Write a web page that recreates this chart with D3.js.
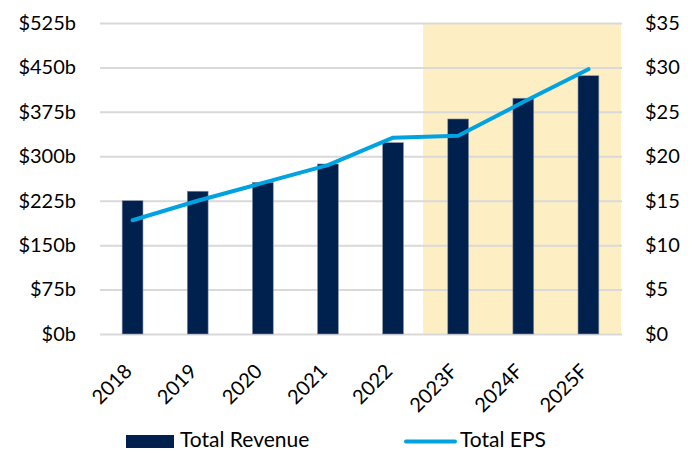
<!DOCTYPE html>
<html><head><meta charset="utf-8">
<script src="https://cdn.jsdelivr.net/npm/d3@7"></script>
<style>body{margin:0;background:#fff}svg{display:block}text{font-family:Lato,"Noto Sans",sans-serif;fill:#000}</style>
</head><body><svg id="c" width="696" height="454"></svg>
<script>
const categories = ["2018","2019","2020","2021","2022","2023F","2024F","2025F"];
const revenue = [225, 241, 256, 287, 323, 363, 398, 436];
const eps = [12.8, 15.0, 17.0, 19.0, 22.1, 22.3, 26.1, 29.8];
const leftTicks = [0,75,150,225,300,375,450,525];
const rightTicks = [0,5,10,15,20,25,30,35];
const forecast = ["2023F","2024F","2025F"];

const svg = d3.select("#c");
const m = {l:100, r:75, t:23, b:120};
const W = 696, H = 454;
const FS = "20px";
const x = d3.scaleBand().domain(categories).range([m.l, W-m.r]).paddingInner(0.68).paddingOuter(0.34);
const yL = d3.scaleLinear().domain([0,525]).range([H-m.b, m.t]);
const yR = d3.scaleLinear().domain([0,35]).range([H-m.b, m.t]);
const step = x.step();

// forecast shading
const fx0 = x(forecast[0]) - (step - x.bandwidth())/2 - 2.5;
const fx1 = x(forecast[forecast.length-1]) + x.bandwidth() + (step - x.bandwidth())/2;
svg.append("rect").attr("x", fx0).attr("y", yL(525)).attr("width", fx1-fx0).attr("height", yL(0)-yL(525)).attr("fill","#fdefc3");

// gridlines
svg.append("g").selectAll("line").data(leftTicks).join("line")
  .attr("x1", m.l).attr("x2", W-m.r+1).attr("y1", d=>yL(d)+0.5).attr("y2", d=>yL(d)+0.5)
  .attr("stroke","#d9d9d9").attr("stroke-width",2);

// left axis
const gL = svg.append("g").attr("transform",`translate(${m.l-24},0)`)
  .call(d3.axisLeft(yL).tickValues(leftTicks).tickSize(0).tickPadding(0).tickFormat(d=>"$"+d+"b"));
gL.select(".domain").remove();
gL.selectAll("text").style("font-size",FS).style("font-family",'Lato,"Noto Sans",sans-serif');

// right axis
const gR = svg.append("g").attr("transform",`translate(${W-m.r+24},0)`)
  .call(d3.axisRight(yR).tickValues(rightTicks).tickSize(0).tickPadding(0).tickFormat(d=>"$"+d));
gR.select(".domain").remove();
gR.selectAll("text").style("font-size",FS).style("font-family",'Lato,"Noto Sans",sans-serif');

// bars
svg.append("g").selectAll("rect").data(categories).join("rect")
  .attr("x", d=>x(d)).attr("width", x.bandwidth())
  .attr("y", (d,i)=>yL(revenue[i])).attr("height", (d,i)=>yL(0)-yL(revenue[i]))
  .attr("fill","#00204e").attr("stroke","#8a93a8").attr("stroke-width",0.6);

// line
const line = d3.line().x((d,i)=>x(categories[i])+x.bandwidth()/2).y(d=>yR(d));
svg.append("path").datum(eps).attr("d", line).attr("fill","none")
  .attr("stroke","#00a3e0").attr("stroke-width",4).attr("stroke-linecap","round").attr("stroke-linejoin","round");

// x axis labels
const gX = svg.append("g").attr("transform",`translate(0,${H-m.b})`)
  .call(d3.axisBottom(x).tickSize(0).tickPadding(0));
gX.select(".domain").remove();
gX.selectAll("text").style("font-size",FS).style("font-family",'Lato,"Noto Sans",sans-serif')
  .attr("text-anchor","end").attr("dy",null).attr("y",0)
  .attr("transform", `translate(-3,35) rotate(-45)`).attr("dominant-baseline","middle");

// legend
const lg = svg.append("g");
lg.append("rect").attr("x",126).attr("y",435).attr("width",48).attr("height",13).attr("fill","#00204e");
lg.append("text").attr("x",180).attr("y",442).attr("dominant-baseline","middle").style("font-size","21px").text("Total Revenue");
lg.append("line").attr("x1",406).attr("x2",455).attr("y1",441.5).attr("y2",441.5).attr("stroke","#00a3e0").attr("stroke-width",4).attr("stroke-linecap","round");
lg.append("text").attr("x",460).attr("y",442).attr("dominant-baseline","middle").style("font-size","21px").text("Total EPS");
</script></body></html>
